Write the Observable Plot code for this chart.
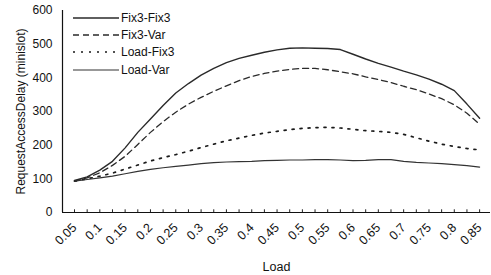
<!DOCTYPE html>
<html>
<head>
<meta charset="utf-8">
<script src="https://cdn.jsdelivr.net/npm/d3@7"></script>
<script src="https://cdn.jsdelivr.net/npm/@observablehq/plot@0.6"></script>
<style>
  html, body { margin: 0; padding: 0; background: #fff; }
  #wrap { position: relative; width: 491px; height: 275px; font-family: "Liberation Sans", Arial, sans-serif; }
  #legend { position: absolute; left: 73px; top: 9px; font-size: 12px; color: #111; }
  #legend .row { display: flex; align-items: center; height: 17.3px; }
  #legend svg { margin-right: 2px; }
</style>
</head>
<body>
<div id="wrap"><div id="legend"></div></div>
<script>
const loads = [0.05,0.075,0.1,0.125,0.15,0.175,0.2,0.225,0.25,0.275,0.3,0.325,0.35,0.375,0.4,0.425,0.45,0.475,0.5,0.525,0.55,0.575,0.6,0.625,0.65,0.675,0.7,0.725,0.75,0.775,0.8,0.825,0.85];
const fix3Fix3 = [95,106,126,152,192,238,278,318,355,383,408,428,445,458,467,476,483,488,489,488,487,484,470,456,443,432,420,409,396,381,362,322,280];
const fix3Var  = [93,103,118,140,167,202,238,270,298,322,342,360,376,392,404,413,420,425,428,428,424,418,412,403,395,386,375,365,352,338,320,295,262];
const loadFix3 = [93,100,108,117,129,141,153,163,172,182,193,203,213,221,229,236,241,246,250,252,253,251,247,243,241,238,232,222,212,203,196,190,186];
const loadVar  = [93,98,103,108,115,122,128,133,137,141,145,148,150,151,152,154,155,156,156,157,157,156,154,155,157,157,152,149,147,145,142,139,135];

const seriesNames = ["Fix3-Fix3", "Fix3-Var", "Load-Fix3", "Load-Var"];
const seriesValues = [fix3Fix3, fix3Var, loadFix3, loadVar];
const seriesStyle = {
  "Fix3-Fix3": {stroke: "#2a2a2a", strokeWidth: 1.4, dash: null},
  "Fix3-Var":  {stroke: "#2a2a2a", strokeWidth: 1.3, dash: "6,4"},
  "Load-Fix3": {stroke: "#1a1a1a", strokeWidth: 1.7, dash: "2,6"},
  "Load-Var":  {stroke: "#333333", strokeWidth: 1.2, dash: null}
};

const xTickLabels = [0.05,0.1,0.15,0.2,0.25,0.3,0.35,0.4,0.45,0.5,0.55,0.6,0.65,0.7,0.75,0.8,0.85];
const xMinorTicks = [0.05,0.075,0.1,0.125,0.15,0.175,0.2,0.225,0.25,0.275,0.3,0.325,0.35,0.375,0.4,0.425,0.45,0.475,0.5,0.525,0.55,0.575,0.6,0.625,0.65,0.675,0.7,0.725,0.75,0.775,0.8,0.825,0.85];
const yTickLabels = [0,100,200,300,400,500,600];

const rows = [];
seriesNames.forEach((name, si) => {
  loads.forEach((l, i) => rows.push({series: name, load: l, value: seriesValues[si][i]}));
});

const lineMarks = seriesNames.map(name => Plot.line(rows.filter(d => d.series === name), {
  x: "load", y: "value",
  stroke: seriesStyle[name].stroke,
  strokeWidth: seriesStyle[name].strokeWidth,
  strokeDasharray: seriesStyle[name].dash || undefined,
  curve: "linear"
}));

const chart = Plot.plot({
  width: 491,
  height: 275,
  marginLeft: 62,
  marginRight: 1,
  marginTop: 10,
  marginBottom: 63,
  style: {fontFamily: "Liberation Sans, Arial, sans-serif", fontSize: "12px", color: "#111", background: "#fff"},
  x: {domain: [0.0263, 0.8715]},
  y: {domain: [0, 600]},
  marks: [
    Plot.axisY({ticks: yTickLabels, tickSize: 0, tickPadding: 10, fontSize: 12,
      label: "RequestAccessDelay (minislot)", labelAnchor: "center", labelArrow: "none", labelOffset: 46}),
    Plot.axisX({ticks: xTickLabels, tickSize: 0, tickRotate: -45, tickPadding: 13, fontSize: 12.5,
      tickFormat: d => String(+d.toFixed(3)),
      label: "Load", labelAnchor: "center", labelArrow: "none", labelOffset: 58}),
    Plot.ruleX(xMinorTicks, {x: d => d, y1: 0, y2: 8, stroke: "#222", strokeWidth: 1}),
    Plot.ruleY([0], {stroke: "#111", strokeWidth: 1.2}),
    Plot.ruleX([0.0263], {stroke: "#111", strokeWidth: 1.2}),
    ...lineMarks
  ]
});
document.getElementById("wrap").prepend(chart);

const legend = document.getElementById("legend");
seriesNames.forEach(name => {
  const s = seriesStyle[name];
  const row = document.createElement("div");
  row.className = "row";
  row.innerHTML = `<svg width="46" height="8"><line x1="0" y1="4" x2="46" y2="4" stroke="${s.stroke}" stroke-width="${s.strokeWidth}" ${s.dash ? `stroke-dasharray="${s.dash}"` : ""}/></svg><span>${name}</span>`;
  legend.appendChild(row);
});
</script>
</body>
</html>
